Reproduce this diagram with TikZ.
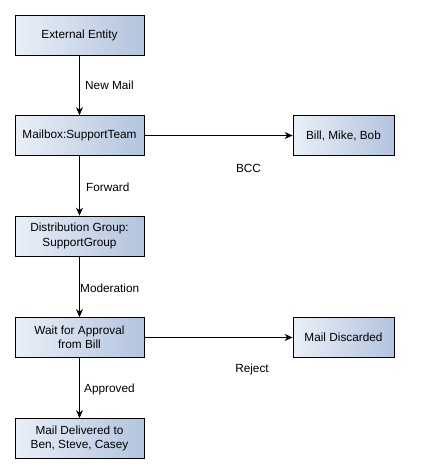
\documentclass[tikz,border=0pt]{standalone}
\usepackage{fontspec}
\setmainfont{Liberation Sans}
\usetikzlibrary{arrows.meta}

\begin{document}
\begin{tikzpicture}[x=1pt,y=-1pt,
    flowbox/.style={draw=black,line width=0.8pt,left color=boxlight,right color=boxdark,
        minimum height=40pt,align=center,font=\fontsize{11.8}{14.5}\selectfont,inner sep=2pt},
    flowarrow/.style={draw=black,line width=0.8pt,-{Stealth[length=8pt,width=7pt]}},
    flowlabel/.style={font=\fontsize{11.8}{14.5}\selectfont,inner sep=0pt}]
    \definecolor{boxlight}{HTML}{EAEFF7}
    \definecolor{boxdark}{HTML}{B2C4DE}
    \pgfmathsetmacro{\mainwidth}{129}
    \pgfmathsetmacro{\sidewidth}{101}
    \useasboundingbox (0,0) rectangle (431,474);
    % main column
    \node[flowbox,minimum width=\mainwidth pt](entity) at (79.5,35) {External Entity};
    \node[flowbox,minimum width=\mainwidth pt](mailbox) at (79.5,135.5) {Mailbox:SupportTeam};
    \node[flowbox,minimum width=\mainwidth pt](group) at (79.5,236) {Distribution Group:\\SupportGroup};
    \node[flowbox,minimum width=\mainwidth pt](approval) at (79.5,337.5) {Wait for Approval\\from Bill};
    \node[flowbox,minimum width=\mainwidth pt](delivered) at (79.5,438.5) {Mail Delivered to\\Ben, Steve, Casey};
    % side column
    \node[flowbox,minimum width=\sidewidth pt](bcc) at (343.5,135.5) {Bill, Mike, Bob};
    \node[flowbox,minimum width=\sidewidth pt](discarded) at (343.5,337.5) {Mail Discarded};
    % connectors
    \draw[flowarrow] (entity) -- (mailbox);
    \draw[flowarrow] (mailbox) -- (group);
    \draw[flowarrow] (group) -- (approval);
    \draw[flowarrow] (approval) -- (delivered);
    \draw[flowarrow] (mailbox) -- (bcc);
    \draw[flowarrow] (approval) -- (discarded);
    % labels
    \node[flowlabel,anchor=west](newmail) at (85,85) {New Mail};
    \node[flowlabel,anchor=west](forward) at (86,187) {Forward};
    \node[flowlabel,anchor=west](moderation) at (80,288) {Moderation};
    \node[flowlabel,anchor=west](approved) at (84,389) {Approved};
    \node[flowlabel](bcclabel) at (248.5,168) {BCC};
    \node[flowlabel](reject) at (252,369) {Reject};
\end{tikzpicture}
\end{document}
